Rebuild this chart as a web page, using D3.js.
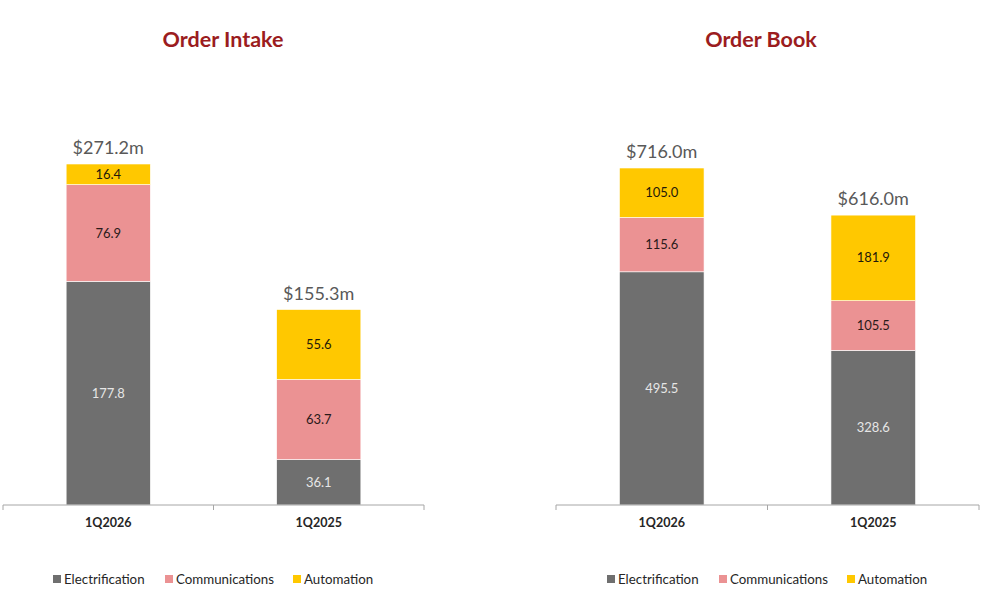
<!DOCTYPE html>
<html>
<head>
<meta charset="utf-8">
<script src="https://cdn.jsdelivr.net/npm/d3@7"></script>
<style>
  body { margin: 0; background: #fff; }
  svg { font-family: Lato, "Open Sans", sans-serif; }
</style>
</head>
<body>
<script>
// Data
const quarters = ["1Q2026", "1Q2025"];
const segments = ["Electrification", "Communications", "Automation"];
const intakeElectrification = [177.8, 36.1];
const intakeCommunications = [76.9, 63.7];
const intakeAutomation = [16.4, 55.6];
const intakeTotals = ["$271.2m", "$155.3m"];
const bookElectrification = [495.5, 328.6];
const bookCommunications = [115.6, 105.5];
const bookAutomation = [105.0, 181.9];
const bookTotals = ["$716.0m", "$616.0m"];

const colors = {Electrification: "#6f6f6f", Communications: "#eb9293", Automation: "#ffc800"};
const labelColors = {Electrification: "#e6e6e6", Communications: "#2a1a1a", Automation: "#1f1a0a"};

const svg = d3.select("body").append("svg")
  .attr("width", 1000)
  .attr("height", 603);

function buildRows(elec, comm, auto) {
  return quarters.map((q, i) => ({
    quarter: q,
    Electrification: elec[i],
    Communications: comm[i],
    Automation: auto[i]
  }));
}

// One stacked-bar panel
function drawPanel(opts) {
  const g = svg.append("g");
  const rows = buildRows(opts.elec, opts.comm, opts.auto);
  const stack = d3.stack().keys(segments)(rows);

  const x = d3.scaleBand()
    .domain(quarters)
    .range([opts.left, opts.right])
    .paddingInner(0.6)
    .paddingOuter(0.3);

  const y = d3.scaleLinear()
    .domain([0, opts.yMax])
    .range([opts.baseline, opts.top]);

  // title
  g.append("text")
    .attr("x", opts.titleX)
    .attr("y", 47)
    .attr("text-anchor", "middle")
    .attr("font-size", 21.5)
    .attr("font-weight", "bold")
    .attr("fill", "#9b1c20")
    .text(opts.title);

  // bars
  const layers = g.selectAll(".layer")
    .data(stack)
    .join("g")
    .attr("fill", d => colors[d.key]);

  layers.selectAll("rect")
    .data(d => d.map(p => ({key: d.key, p: p})))
    .join("rect")
    .attr("x", d => x(d.p.data.quarter))
    .attr("width", x.bandwidth())
    .attr("y", d => y(d.p[1]))
    .attr("height", d => y(d.p[0]) - y(d.p[1]))
    .attr("stroke", "#fff")
    .attr("stroke-width", 0.6);

  layers.selectAll("text")
    .data(d => d.map(p => ({key: d.key, p: p})))
    .join("text")
    .attr("x", d => x(d.p.data.quarter) + x.bandwidth() / 2)
    .attr("y", d => (y(d.p[0]) + y(d.p[1])) / 2)
    .attr("dy", "0.35em")
    .attr("text-anchor", "middle")
    .attr("font-size", 13)
    .attr("fill", d => labelColors[d.key])
    .text(d => d.p.data[d.key].toFixed(1));

  // totals above each bar
  g.selectAll(".total")
    .data(rows)
    .join("text")
    .attr("x", d => x(d.quarter) + x.bandwidth() / 2)
    .attr("y", d => y(d.Electrification + d.Communications + d.Automation) - 10)
    .attr("text-anchor", "middle")
    .attr("font-size", 18)
    .attr("fill", "#595959")
    .text((d, i) => opts.totals[i]);

  // category axis
  const xAxis = g.append("g")
    .attr("transform", `translate(0, ${opts.baseline})`)
    .call(d3.axisBottom(x).tickSize(0).tickPadding(13));
  xAxis.select(".domain").remove();
  xAxis.selectAll("text")
    .attr("font-size", 12.5)
    .attr("font-weight", "bold")
    .attr("font-family", "Lato, sans-serif")
    .attr("fill", "#262626");

  const mid = (opts.left + opts.right) / 2;
  g.append("line")
    .attr("x1", opts.left).attr("x2", opts.right)
    .attr("y1", opts.baseline).attr("y2", opts.baseline)
    .attr("stroke", "#a6a6a6").attr("stroke-width", 1);
  g.selectAll(".tick-mark")
    .data([opts.left, mid, opts.right])
    .join("line")
    .attr("x1", d => d).attr("x2", d => d)
    .attr("y1", opts.baseline).attr("y2", opts.baseline + 5)
    .attr("stroke", "#a6a6a6").attr("stroke-width", 1);

  // legend
  const legend = g.append("g")
    .attr("transform", `translate(${opts.legendX}, 579)`);
  const offsets = [0, 112, 240];
  segments.forEach((s, i) => {
    legend.append("rect")
      .attr("x", offsets[i])
      .attr("y", -4)
      .attr("width", 8)
      .attr("height", 8)
      .attr("fill", colors[s]);
    legend.append("text")
      .attr("x", offsets[i] + 11)
      .attr("y", 0)
      .attr("dy", "0.35em")
      .attr("font-size", 13.3)
      .attr("fill", "#262626")
      .text(s);
  });
}

drawPanel({
  title: "Order Intake", titleX: 223,
  left: 3, right: 424, baseline: 505, top: 164, yMax: 271.1,
  elec: intakeElectrification, comm: intakeCommunications, auto: intakeAutomation,
  totals: intakeTotals, legendX: 53
});

drawPanel({
  title: "Order Book", titleX: 761,
  left: 556, right: 979, baseline: 505, top: 168, yMax: 716.1,
  elec: bookElectrification, comm: bookCommunications, auto: bookAutomation,
  totals: bookTotals, legendX: 607
});
</script>
</body>
</html>
